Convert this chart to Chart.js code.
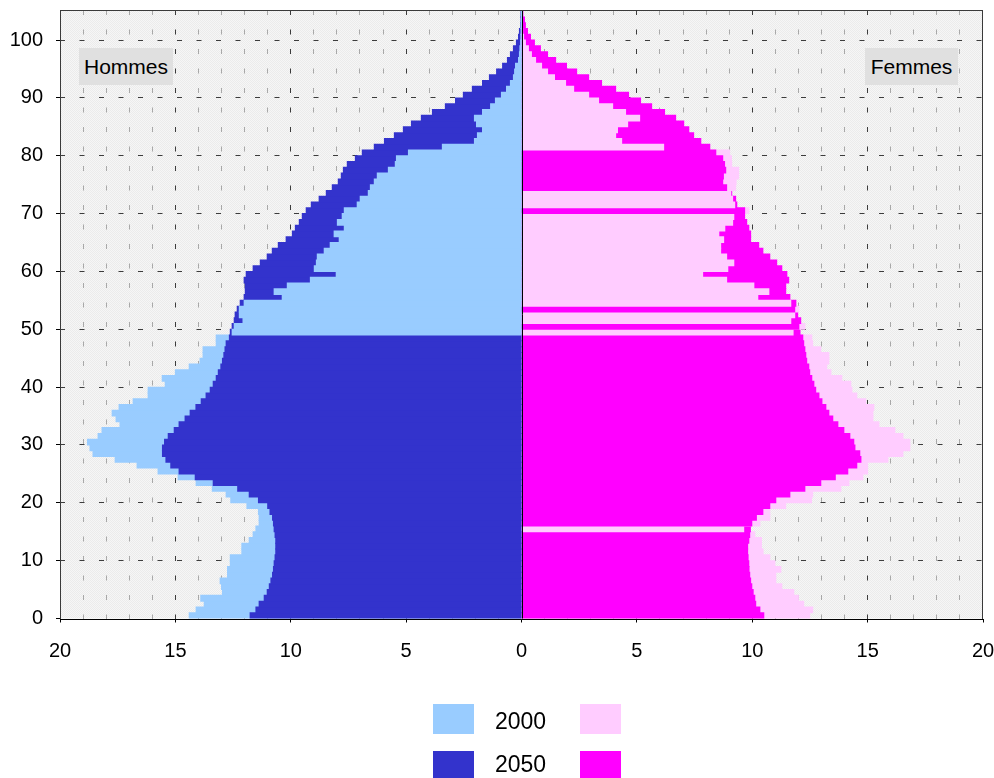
<!DOCTYPE html>
<html><head><meta charset="utf-8">
<script src="https://cdn.jsdelivr.net/npm/chart.js@4.4.0/dist/chart.umd.min.js"></script>
<style>
html,body{margin:0;padding:0;background:#fff;}
#wrap{position:relative;width:994px;height:778px;overflow:hidden;font-family:"Liberation Sans",Arial,sans-serif;}
#c{position:absolute;left:0;top:0;}
.tag{position:absolute;background:#e0e0e0;font-size:21px;line-height:37px;height:37px;text-align:center;color:#000;}
.sw{position:absolute;width:41px;height:30px;}
.lt{position:absolute;font-size:23px;line-height:30px;color:#000;}
</style></head><body>
<div id="wrap">
<canvas id="c" width="994" height="778"></canvas>
<div class="tag" style="left:79px;top:48px;width:94px;">Hommes</div>
<div class="tag" style="left:865px;top:48px;width:93px;">Femmes</div>
<div class="sw" style="left:433px;top:704px;background:#99CCFF"></div>
<div class="lt" style="left:495px;top:706px;">2000</div>
<div class="sw" style="left:580px;top:704px;background:#FFCCFF"></div>
<div class="sw" style="left:433px;top:751px;background:#3333CC"></div>
<div class="lt" style="left:495px;top:749px;">2050</div>
<div class="sw" style="left:580px;top:751px;background:#FF00FF"></div>
</div>
<script>
const ages=[0,1,2,3,4,5,6,7,8,9,10,11,12,13,14,15,16,17,18,19,20,21,22,23,24,25,26,27,28,29,30,31,32,33,34,35,36,37,38,39,40,41,42,43,44,45,46,47,48,49,50,51,52,53,54,55,56,57,58,59,60,61,62,63,64,65,66,67,68,69,70,71,72,73,74,75,76,77,78,79,80,81,82,83,84,85,86,87,88,89,90,91,92,93,94,95,96,97,98,99,100,101,102,103,104];
const men2000=[14.4,14.1,13.75,13.9,12.96,13.0,13.06,12.74,12.74,12.62,12.62,12.12,12.12,11.8,11.63,11.51,11.37,11.37,11.4,11.9,12.6,12.8,13.4,14.1,14.88,15.75,16.66,17.61,18.57,18.7,18.81,18.35,18.18,17.4,17.57,17.74,17.44,16.83,16.18,16.18,15.44,15.57,15.0,14.4,13.93,13.8,13.8,13.23,13.23,12.54,12.45,12.07,12.23,12.23,12.02,10.37,10.72,10.15,9.15,8.03,8.98,8.89,8.85,8.55,8.29,7.9,8.12,7.68,7.98,7.77,7.68,7.12,6.99,6.64,6.55,6.38,6.25,5.77,5.47,5.42,4.9,3.43,2.04,1.91,1.69,1.95,2.04,1.69,1.34,1.13,0.87,0.65,0.48,0.35,0.3,0.26,0.13,0.09,0.07,0.04,0.03,0.02,0.01,0,0];
const men2050=[11.76,11.51,11.37,11.15,11.02,10.93,10.86,10.79,10.75,10.72,10.68,10.65,10.65,10.65,10.68,10.72,10.75,10.79,10.9,11.0,11.4,11.8,12.3,13.36,14.14,14.84,15.2,15.41,15.56,15.56,15.47,15.31,15.05,14.84,14.58,14.36,14.11,13.88,13.67,13.49,13.36,13.23,13.14,13.03,12.96,12.9,12.85,12.8,12.66,12.62,12.54,12.45,12.41,12.32,12.19,12.02,11.97,11.97,12.02,11.93,11.63,11.32,11.02,10.8,10.54,10.2,9.93,9.8,9.63,9.5,9.33,9.11,8.77,8.46,8.2,7.94,7.81,7.72,7.55,7.2,6.9,6.38,5.94,5.51,5.12,4.77,4.34,3.86,3.3,2.86,2.52,2.13,1.69,1.39,1.08,0.82,0.61,0.48,0.35,0.22,0.13,0.09,0.04,0.02,0.01];
const women2000=[12.49,12.62,12.23,12.0,11.8,11.28,11.02,11.02,11.24,10.98,10.76,10.47,10.4,10.4,10.11,9.63,10.33,10.76,10.76,11.45,12.57,12.62,13.84,14.19,14.79,15.0,15.0,15.88,16.53,16.83,16.83,16.53,16.18,15.49,15.23,15.23,15.27,14.92,14.53,14.32,14.27,13.88,13.41,13.23,13.32,13.32,12.97,12.62,12.58,11.77,12.28,11.67,11.84,12.02,11.67,10.24,10.72,10.07,8.89,7.85,8.94,9.2,8.89,8.63,8.63,8.76,8.55,8.81,9.15,9.2,9.85,9.24,9.15,9.07,9.28,9.3,9.41,9.41,9.11,9.1,9.02,6.16,4.34,4.08,4.16,4.6,5.12,4.51,3.95,3.34,2.91,2.26,1.91,1.43,1.13,0.87,0.61,0.43,0.3,0.17,0.09,0.05,0.03,0.01,0];
const women2050=[10.5,10.33,10.15,10.11,10.04,9.98,9.93,9.89,9.86,9.85,9.82,9.8,9.8,9.85,9.89,9.92,9.98,10.18,10.46,10.76,11.02,11.63,12.28,12.97,13.6,14.14,14.53,14.71,14.66,14.45,14.4,14.23,13.97,13.71,13.49,13.32,13.19,13.02,12.89,12.75,12.67,12.58,12.49,12.45,12.36,12.32,12.28,12.23,12.19,12.07,12.02,12.1,11.97,11.84,11.89,11.63,11.45,11.45,11.58,11.5,11.28,11.06,10.76,10.46,10.28,9.93,9.93,9.85,9.76,9.67,9.67,9.33,9.28,9.11,8.89,8.72,8.75,8.85,8.8,8.72,8.42,8.16,7.77,7.46,7.25,7.03,6.68,6.2,5.64,5.16,4.64,4.08,3.47,2.91,2.39,1.95,1.48,1.13,0.82,0.56,0.39,0.26,0.17,0.13,0.06];
const yTickLabels=[0,10,20,30,40,50,60,70,80,90,100];
const xTickLabels=[20,15,10,5,0,5,10,15,20];

const COL={m2000:'#99CCFF',m2050:'#3333CC',f2000:'#FFCCFF',f2050:'#FF00FF'};
const FONT='"Liberation Sans", Arial, sans-serif';

// smaller value is drawn in front of the larger one
function layer(a,b,ca,cb,sign,front){
  return {
    data: ages.map((age,i)=>({y:age+0.5,x:sign*(front?Math.min(a[i],b[i]):Math.max(a[i],b[i]))})),
    backgroundColor: ages.map((age,i)=>{const aSmaller=a[i]<=b[i];return front?(aSmaller?ca:cb):(aSmaller?cb:ca);}),
    order: front?0:1, grouped:false, borderWidth:0, inflateAmount:0.5,
    barPercentage:1, categoryPercentage:1
  };
}

const pc=document.createElement('canvas');pc.width=2;pc.height=2;
const pctx=pc.getContext('2d');pctx.fillStyle='#f6f6f6';pctx.fillRect(0,0,2,2);
pctx.fillStyle='#ebebeb';pctx.fillRect(0,0,1,1);pctx.fillRect(1,1,1,1);

const deco={
  id:'deco',
  beforeDraw(chart){
    const {ctx,chartArea:a}=chart;
    ctx.save();ctx.fillStyle=ctx.createPattern(pc,'repeat');
    ctx.fillRect(a.left,a.top,a.right-a.left,a.bottom-a.top);ctx.restore();
  },
  afterDatasetsDraw(chart){
    const {ctx,chartArea:a,scales}=chart;
    ctx.save();
    const x0=Math.round(scales.x.getPixelForValue(0))+0.5;
    ctx.strokeStyle='#000';ctx.lineWidth=1;
    ctx.beginPath();ctx.moveTo(x0,a.top);ctx.lineTo(x0,a.bottom);ctx.stroke();
    ctx.strokeStyle='#3a3a3a';
    ctx.strokeRect(Math.round(a.left)+0.5,Math.round(a.top)+0.5,Math.round(a.right-a.left)-1,Math.round(a.bottom-a.top));
    ctx.strokeStyle='#000';
    ctx.beginPath();ctx.moveTo(a.left,Math.round(a.bottom)+0.5);ctx.lineTo(a.right,Math.round(a.bottom)+0.5);ctx.stroke();
    ctx.restore();
  }
};

new Chart(document.getElementById('c'),{
  type:'bar',
  data:{datasets:[
    layer(men2000,men2050,COL.m2000,COL.m2050,-1,true),
    layer(men2000,men2050,COL.m2000,COL.m2050,-1,false),
    layer(women2000,women2050,COL.f2000,COL.f2050,1,true),
    layer(women2000,women2050,COL.f2000,COL.f2050,1,false)
  ]},
  options:{
    indexAxis:'y',responsive:false,animation:false,devicePixelRatio:1,
    layout:{padding:{top:10,right:11,left:0,bottom:0}},
    plugins:{legend:{display:false},tooltip:{enabled:false}},
    scales:{
      x:{type:'linear',min:-20,max:20,offset:false,
        ticks:{stepSize:1,autoSkip:false,maxRotation:0,padding:17,color:'#000',font:{family:FONT,size:20},
          callback:(v)=>{const k=xTickLabels.indexOf(Math.abs(v));return (v%5===0&&k>=0)?String(Math.abs(v)):'';}},
        grid:{offset:false,lineWidth:1,drawTicks:true,tickLength:4,
          color:(c)=>{const v=c.tick?c.tick.value:null;if(v===null||v===0||Math.abs(v)===20)return 'rgba(0,0,0,0)';return v%5===0?'#3c3c3c':'#a8a8a8';},
          tickColor:(c)=>(c.tick&&c.tick.value%5===0)?'#000':'rgba(0,0,0,0)'},
        border:{display:false,dash:[5,14.5]},
        afterFit:(s)=>{s.height=778-618.5;s.paddingLeft=0;s.paddingRight=0;}
      },
      y:{type:'linear',min:0,max:105.2,offset:false,
        afterBuildTicks:(s)=>{s.ticks=yTickLabels.map(v=>({value:v}));},
        ticks:{padding:13,color:'#000',font:{family:FONT,size:20},includeBounds:false,callback:(v)=>String(v)},
        grid:{offset:false,lineWidth:1,drawTicks:true,tickLength:4,
          color:(c)=>{const v=c.tick?c.tick.value:null;return (v===null||v===0)?'rgba(0,0,0,0)':'#3c3c3c';},
          tickColor:'#000'},
        border:{display:false,dash:[5,14.5]},
        afterFit:(s)=>{s.width=60;s.paddingTop=0;s.paddingBottom=0;}
      }
    }
  },
  plugins:[deco]
});
</script>
</body></html>
